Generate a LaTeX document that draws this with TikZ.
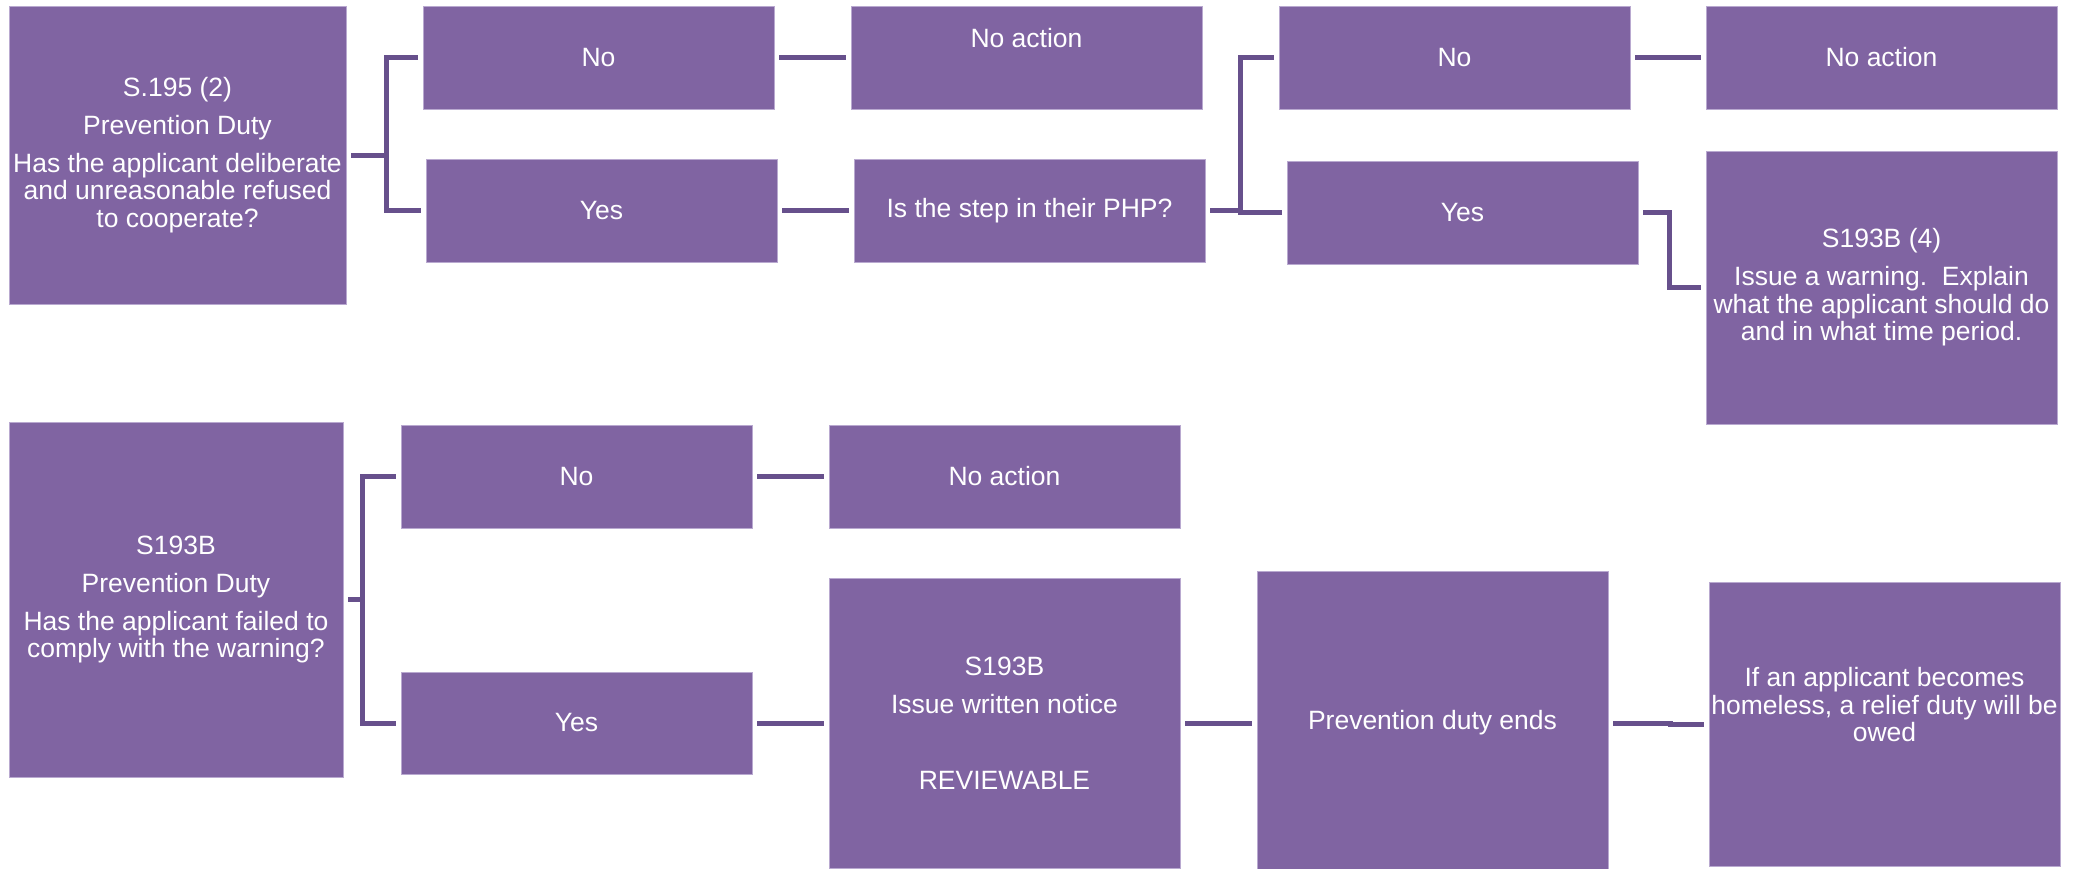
\documentclass[tikz,border=0pt]{standalone}
\usepackage{fontspec}
\setmainfont{Liberation Sans}
\usetikzlibrary{calc}
\definecolor{boxpurple}{HTML}{8064A2}
\definecolor{edgepurple}{HTML}{B9A9D0}
\definecolor{linepurple}{HTML}{67508C}
\tikzset{
  box/.style={rectangle, fill=boxpurple, draw=edgepurple, line width=0.8pt, inner sep=0pt,
    text=white, align=center, font=\fontsize{26.5}{27.5}\selectfont},
  txt/.style={inner sep=0pt, text=white, align=center, font=\fontsize{26.5}{27.5}\selectfont},
  conn/.style={draw=linepurple, line width=5pt, shorten <=5pt, shorten >=5pt},
}
\newcommand{\mybox}[6]{\node[box, minimum width={#4pt-#2pt}, minimum height={#5pt-#3pt}] (#1) at ({(#2+#4)/2},{(#3+#5)/2}) {#6};}
\begin{document}
\begin{tikzpicture}[x=1pt,y=-1pt]
\clip (0,0) rectangle (2078,868);
\fill[white] (0,0) rectangle (2078,868);
% top row
\mybox{A}{9}{6}{346}{304}{S.195 (2)\\[10.5pt]Prevention Duty\\[10.5pt]Has the applicant deliberate\\and unreasonable refused\\to cooperate?}
\mybox{No1}{423}{6}{774}{109}{No}
\mybox{Yes1}{426}{159}{777}{262}{Yes}
\mybox{NA1}{851}{6}{1202}{109}{}
\node[txt] (NA1t) at ($(NA1.north)+(0,32)$) {No action};
\mybox{PHP}{854}{159}{1205}{262}{Is the step in their PHP?}
\mybox{No2}{1279}{6}{1630}{109}{No}
\mybox{Yes2}{1287}{161}{1638}{264}{Yes}
\mybox{NA2}{1706}{6}{2057}{109}{No action}
\mybox{S4}{1706}{151}{2057}{424}{S193B (4)\\[10.5pt]Issue a warning.\ \ Explain\\what the applicant should do\\and in what time period.}
% bottom row
\mybox{B}{9}{422}{343}{777}{S193B\\[10.5pt]Prevention Duty\\[10.5pt]Has the applicant failed to\\comply with the warning?}
\mybox{No3}{401}{425}{752}{528}{No}
\mybox{Yes3}{401}{672}{752}{774}{Yes}
\mybox{NA3}{829}{425}{1180}{528}{No action}
\mybox{Notice}{829}{578}{1180}{868}{S193B\\[10.5pt]Issue written notice\\[48pt]REVIEWABLE}
\mybox{PDE}{1257}{571}{1608}{875}{Prevention duty ends}
\mybox{Fin}{1709}{582}{2060}{866}{}
\node[txt] (Fint) at ($(Fin.center)+(0,-19)$) {If an applicant becomes\\homeless, a relief duty will be\\owed};
% connectors top
\coordinate (ja) at (386,155);
\draw[conn] (A.east) -- (ja) |- (No1.west);
\draw[conn, shorten <=0pt] (ja) |- (Yes1.west);
\draw[conn] (No1.east) -- (No1.east -| NA1.west);
\draw[conn] (Yes1.east) -- (Yes1.east -| PHP.west);
\coordinate (jp) at (1240,210.5);
\draw[conn] (PHP.east) -- (jp) |- (No2.west);
\draw[conn, shorten <=0pt] (jp) |- (Yes2.west);
\draw[conn] (No2.east) -- (No2.east -| NA2.west);
\draw[conn] (Yes2.east) -- ++(31,0) |- (S4.west);
% connectors bottom
\coordinate (jb) at (362,599.5);
\draw[conn] (B.east) -- (jb) |- (No3.west);
\draw[conn, shorten <=0pt] (jb) |- (Yes3.west);
\draw[conn] (No3.east) -- (No3.east -| NA3.west);
\draw[conn] (Yes3.east) -- (Yes3.east -| Notice.west);
\draw[conn] (Notice.east |- Yes3.east) -- (Yes3.east -| PDE.west);
\draw[conn] (PDE.east |- Yes3.east) -- ++(62,0) |- (Fin.west);
\end{tikzpicture}
\end{document}
